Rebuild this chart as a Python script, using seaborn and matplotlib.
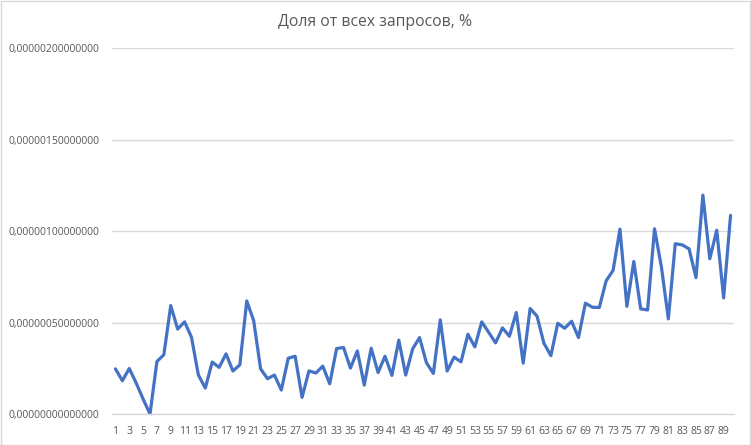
import matplotlib
matplotlib.use("Agg")
import matplotlib.pyplot as plt
import matplotlib.ticker as mticker
from matplotlib.patches import Rectangle
import seaborn as sns
import pandas as pd

# Data (values in units of 1e-8)
days = list(range(1, 91))
share_e8 = [
    24.7, 18.2, 24.9, 16.9, 8.2, 0.0, 28.7, 32.4, 59.3, 46.4,
    50.4, 42.0, 21.3, 14.2, 28.4, 25.5, 32.9, 23.5, 26.9, 61.8,
    51.1, 24.7, 19.3, 21.3, 13.1, 30.5, 31.6, 9.1, 23.6, 22.4,
    26.2, 16.5, 35.8, 36.4, 25.1, 34.5, 15.8, 36.0, 22.7, 31.6,
    21.1, 40.4, 21.3, 35.6, 41.8, 28.0, 22.2, 51.5, 23.5, 31.1,
    28.5, 43.6, 36.7, 50.4, 44.7, 38.9, 47.1, 42.5, 55.5, 27.8,
    57.7, 53.5, 38.7, 31.9, 49.6, 46.9, 50.7, 41.8, 60.6, 58.4,
    58.2, 72.8, 78.5, 101.1, 58.9, 83.4, 57.5, 56.9, 101.3, 80.3,
    52.0, 93.1, 92.5, 90.3, 74.6, 119.7, 84.9, 100.5, 63.5, 108.6,
]
title = "Доля от всех запросов, %"
y_ticks = [0.0, 0.0000005, 0.000001, 0.0000015, 0.000002]
x_ticks = list(range(1, 90, 2))

df = pd.DataFrame({"day": days, "share": [v * 1e-8 for v in share_e8]})

sns.set_theme(style="white")
plt.rcParams["font.family"] = ["Open Sans", "DejaVu Sans"]

fig = plt.figure(figsize=(7.51, 4.45), dpi=100)
ax = fig.add_axes([112 / 751, 1 - 414 / 445, (734 - 112) / 751, (414 - 48.3) / 445])

grid_c = "#D9D9D9"
text_c = "#595959"

sns.lineplot(data=df, x="day", y="share", ax=ax, color="#4472C4", linewidth=2.3)

ax.set_xlim(0.5, 90.5)
ax.set_ylim(0, 0.000002)
ax.set_yticks(y_ticks)
ax.set_xticks(x_ticks)
ax.yaxis.set_major_formatter(mticker.FuncFormatter(lambda v, p: ("%.14f" % v).replace(".", ",")))
ax.grid(axis="y", color=grid_c, linewidth=1.0)
ax.set_axisbelow(True)
for s in ["top", "right", "left"]:
    ax.spines[s].set_visible(False)
ax.spines["bottom"].set_color(grid_c)
ax.spines["bottom"].set_linewidth(1.0)
ax.tick_params(axis="both", length=0, colors=text_c, labelsize=7.5)
ax.tick_params(axis="y", pad=9)
ax.tick_params(axis="x", pad=9)
ax.set_xlabel("")
ax.set_ylabel("")

fig.text(375 / 751, 1 - 22 / 445, title, ha="center", va="center", fontsize=11.3, color=text_c)

fig.patches.append(Rectangle((0.5 / 751, 0.5 / 445), 749.5 / 751, 443.5 / 445,
                             transform=fig.transFigure, fill=False, edgecolor=grid_c, linewidth=1.0))

fig.savefig("out.png", dpi=100)
